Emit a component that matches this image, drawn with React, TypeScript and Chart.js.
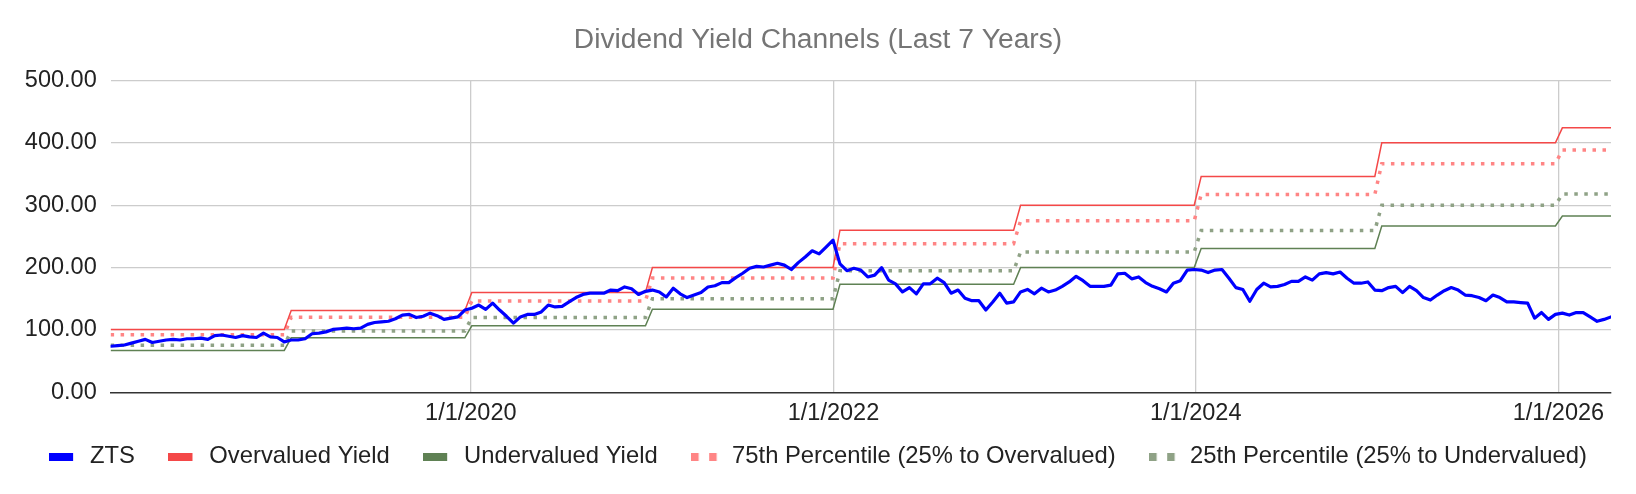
import React, { useEffect, useRef } from 'react';
import { Chart, registerables } from 'chart.js';

Chart.register(...registerables);

// ---- Data ----
const START_DATE = Date.UTC(2018, 0, 5); // first sample (biweekly samples)
const STEP_DAYS = 14;

const ZTS = [
  74, 75, 76, 79, 82, 85, 80, 82, 84, 85,
  84, 86, 86, 87, 85, 91, 92, 90, 88, 91,
  89, 88, 95, 89, 88, 81, 84, 84, 86, 94,
  95, 97, 101, 102, 103, 102, 103, 109, 112, 113,
  114, 118, 124, 125, 120, 122, 127, 123, 117, 119,
  121, 132, 135, 140, 133, 143, 132, 122, 111, 121,
  125, 125, 129, 140, 137, 138, 145, 152, 157, 159,
  159, 159, 164, 163, 169, 166, 157, 162, 164, 161,
  153, 167, 158, 152, 156, 160, 169, 171, 176, 176,
  184, 191, 199, 202, 201, 204, 207, 204, 197, 208,
  217, 227, 222, 233, 244, 206, 195, 199, 196, 185,
  188, 200, 180, 174, 161, 168, 158, 174, 174, 183,
  176, 159, 164, 151, 147, 147, 132, 145, 159, 143,
  145, 161, 165, 158, 167, 161, 164, 170, 177, 186,
  179, 170, 170, 170, 172, 190, 191, 182, 185, 176,
  170, 166, 161, 175, 179, 196, 197, 196, 192, 196,
  197, 183, 168, 165, 146, 165, 175, 169, 170, 173,
  178, 178, 185, 180, 190, 192, 190, 193, 183, 175,
  175, 177, 164, 163, 168, 170, 160, 170, 163, 152,
  148, 156, 163, 168, 164, 156, 155, 152, 147, 156,
  152, 145, 145, 144, 143, 119, 128, 117, 125, 127,
  124, 128, 128, 121, 114, 117, 121,
];

const YEARS = [2018, 2019, 2020, 2021, 2022, 2023, 2024, 2025, 2026];
const OVERVALUED = [100.8, 131.2, 160.0, 200.0, 260.0, 300.0, 346.0, 400.0, 424.0];
const UNDERVALUED = [67.2, 87.47, 106.67, 133.33, 173.33, 200.0, 230.67, 266.67, 282.67];
const P75 = [92.4, 120.27, 146.67, 183.33, 238.33, 275.0, 317.17, 366.67, 388.67];
const P25 = [75.6, 98.4, 120.0, 150.0, 195.0, 225.0, 259.5, 300.0, 318.0];

const SERIES_NAMES = [
  'ZTS',
  'Overvalued Yield',
  'Undervalued Yield',
  '75th Percentile (25% to Overvalued)',
  '25th Percentile (25% to Undervalued)',
];

const X_TICK_LABELS = ['1/1/2020', '1/1/2022', '1/1/2024', '1/1/2026'];
const Y_MIN = 0;
const Y_MAX = 500;
const Y_STEP = 100;

// ---- Styles ----
const COLORS = ['#0000ff', '#f44848', '#5f8154', '#ff8585', '#8fa286'];
const FONT_FAMILY = "'Liberation Sans', Arial, sans-serif";
const TICK_FONT = 23.5;
const LEGEND_FONT = 23.8;
const LEGEND_SHIFT = 16.8;

const DAY = 86400000;
const DATES = ZTS.map((_, i) => START_DATE + i * STEP_DAYS * DAY);
const parseLabel = (s: string) => {
  const [m, d, y] = s.split('/').map(Number);
  return Date.UTC(y, m - 1, d);
};
const X_TICK_VALUES = X_TICK_LABELS.map(parseLabel);

const yearValue = (arr: number[], t: number) => arr[YEARS.indexOf(new Date(t).getUTCFullYear())];
const stepSeries = (arr: number[]) => DATES.map((t) => ({ x: t, y: yearValue(arr, t) }));

function makeMarker(color: string, dotted: boolean) {
  const c = document.createElement('canvas');
  c.width = 29;
  c.height = 8;
  const g = c.getContext('2d');
  if (g) {
    g.fillStyle = color;
    if (dotted) {
      g.fillRect(0, 0, 7.5, 8);
      g.fillRect(18, 0, 7.5, 8);
    } else {
      g.fillRect(0, 0, 24, 8);
    }
  }
  return c;
}

const legendShift = {
  id: 'legendShift',
  afterLayout(chart: any) {
    if (chart.legend) chart.legend.top -= LEGEND_SHIFT;
  },
};

export default function App() {
  const ref = useRef<HTMLCanvasElement | null>(null);

  useEffect(() => {
    if (!ref.current) return;
    const dotted = [3.5, 6.5];
    const markers = COLORS.map((c, i) => makeMarker(c, i >= 3));
    const chart = new Chart(ref.current, {
      type: 'line',
      plugins: [legendShift],
      data: {
        datasets: [
          {
            label: SERIES_NAMES[0],
            data: DATES.map((t, i) => ({ x: t, y: ZTS[i] })),
            borderColor: COLORS[0],
            borderWidth: 3.2,
            borderJoinStyle: 'round',
            borderCapStyle: 'round',
            pointRadius: 0,
          },
          {
            label: SERIES_NAMES[1],
            data: stepSeries(OVERVALUED),
            borderColor: COLORS[1],
            borderWidth: 1.5,
            pointRadius: 0,
          },
          {
            label: SERIES_NAMES[2],
            data: stepSeries(UNDERVALUED),
            borderColor: COLORS[2],
            borderWidth: 1.5,
            pointRadius: 0,
          },
          {
            label: SERIES_NAMES[3],
            data: stepSeries(P75),
            borderColor: COLORS[3],
            borderWidth: 3.5,
            borderDash: dotted,
            pointRadius: 0,
          },
          {
            label: SERIES_NAMES[4],
            data: stepSeries(P25),
            borderColor: COLORS[4],
            borderWidth: 3.5,
            borderDash: dotted,
            pointRadius: 0,
          },
        ],
      },
      options: {
        animation: false,
        responsive: true,
        maintainAspectRatio: false,
        layout: { padding: { left: 0, right: 0, top: 0, bottom: -9.4 } },
        elements: { line: { tension: 0 } },
        scales: {
          x: {
            type: 'linear',
            min: DATES[0],
            max: DATES[DATES.length - 1],
            afterBuildTicks: (scale: any) => {
              scale.ticks = X_TICK_VALUES.map((v) => ({ value: v }));
            },
            afterFit: (scale: any) => {
              scale.height = 35.7;
            },
            ticks: {
              autoSkip: false,
              maxRotation: 0,
              padding: 7.5,
              color: '#222',
              font: { family: FONT_FAMILY, size: TICK_FONT },
              callback: (_v: any, idx: number) => X_TICK_LABELS[idx],
            },
            grid: { color: '#cccccc', lineWidth: 1.3, drawTicks: false },
            border: { display: true, color: '#333333', width: 1.6 },
          },
          y: {
            min: Y_MIN,
            max: Y_MAX,
            afterFit: (scale: any) => {
              scale.width = 102.6;
            },
            ticks: {
              stepSize: Y_STEP,
              padding: 13.9,
              color: '#222',
              font: { family: FONT_FAMILY, size: TICK_FONT },
              callback: (v: any) => Number(v).toFixed(2),
            },
            grid: {
              color: (c: any) => (c.tick && c.tick.value === 0 ? 'rgba(0,0,0,0)' : '#cccccc'),
              lineWidth: 1.3,
              drawTicks: false,
            },
            border: { display: false },
          },
          yRightSpace: {
            type: 'linear',
            position: 'right',
            display: true,
            afterFit: (scale: any) => {
              scale.width = 17;
            },
            ticks: { display: false },
            grid: { display: false, drawTicks: false },
            border: { display: false },
          },
        },
        plugins: {
          tooltip: { enabled: false },
          title: {
            display: true,
            text: 'Dividend Yield Channels (Last 7 Years)',
            color: '#757575',
            font: { family: FONT_FAMILY, size: 28.2, weight: 'normal' },
            padding: { top: 15.0, bottom: 23.6 },
          },
          legend: {
            display: true,
            position: 'bottom',
            labels: {
              usePointStyle: true,
              pointStyleWidth: 29,
              boxHeight: 8,
              padding: 33.5,
              color: '#222',
              font: { family: FONT_FAMILY, size: LEGEND_FONT },
              generateLabels: (ch: any) =>
                ch.data.datasets.map((ds: any, i: number) => ({
                  text: ds.label,
                  fillStyle: COLORS[i],
                  strokeStyle: COLORS[i],
                  fontColor: '#222',
                  lineWidth: 0,
                  pointStyle: markers[i],
                  rotation: 0,
                  hidden: false,
                  datasetIndex: i,
                })),
            },
          },
        },
      } as any,
    });
    return () => chart.destroy();
  }, []);

  return (
    <div style={{ position: 'relative', width: 1620, height: 478 }}>
      <canvas ref={ref} />
    </div>
  );
}
